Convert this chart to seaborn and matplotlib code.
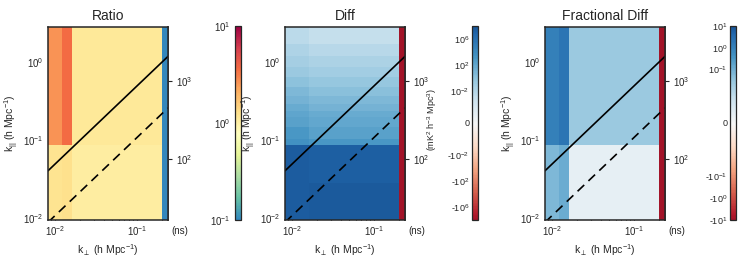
import numpy as np
import matplotlib
matplotlib.use('Agg')
import matplotlib.pyplot as plt
import matplotlib.colors as mcolors
import matplotlib.ticker as mticker
import seaborn as sns

# bin edges (h/Mpc)
kperp_edges = [0.0082, 0.0123, 0.0161, 0.205, 0.24]
kpar_edges = [0.0094, 0.028, 0.086, 0.103, 0.147, 0.197, 0.235, 0.29,
              0.37, 0.48, 0.64, 0.86, 1.19, 1.7, 2.81]

# values per cell, rows from low k_par to high k_par, columns = k_perp bins
ratio_vals = [
    [1.2, 1.25, 1.03, 0.1],
    [1.2, 1.25, 1.03, 0.1],
    [2.6, 3.6, 1.12, 0.1],
    [2.6, 3.6, 1.12, 0.1],
    [2.6, 3.6, 1.12, 0.1],
    [2.6, 3.6, 1.12, 0.1],
    [2.6, 3.6, 1.12, 0.1],
    [2.6, 3.6, 1.12, 0.1],
    [2.6, 3.6, 1.12, 0.1],
    [2.6, 3.6, 1.12, 0.1],
    [2.6, 3.6, 1.12, 0.1],
    [2.6, 3.6, 1.12, 0.1],
    [2.6, 3.6, 1.12, 0.1],
    [2.6, 3.6, 1.12, 0.1],
]
diff_vals = [
    [3e7, 3e7, 4e7, -1e8],
    [3e7, 3e7, 2.5e7, -1e8],
    [3e3, 3e3, 1e3, -1e8],
    [1e3, 1e3, 300, -1e8],
    [300, 300, 100, -1e8],
    [120, 120, 40, -1e8],
    [45, 45, 15, -1e8],
    [15, 15, 5, -1e8],
    [4.5, 4.5, 1.5, -1e8],
    [1.2, 1.2, 0.4, -1e8],
    [0.25, 0.25, 0.08, -1e8],
    [0.06, 0.06, 0.02, -1e8],
    [0.015, 0.015, 0.005, -1e8],
    [0.004, 0.004, 0.0012, -1e8],
]
frac_vals = [
    [0.07, 0.12, 0.003, -10],
    [0.07, 0.12, 0.003, -10],
    [1.2, 2.0, 0.028, -10],
    [1.2, 2.0, 0.028, -10],
    [1.2, 2.0, 0.028, -10],
    [1.2, 2.0, 0.028, -10],
    [1.2, 2.0, 0.028, -10],
    [1.2, 2.0, 0.028, -10],
    [1.2, 2.0, 0.028, -10],
    [1.2, 2.0, 0.028, -10],
    [1.2, 2.0, 0.028, -10],
    [1.2, 2.0, 0.028, -10],
    [1.2, 2.0, 0.028, -10],
    [1.2, 2.0, 0.028, -10],
]

titles = ['Ratio', 'Diff', 'Fractional Diff']
horizon_slope = 4.9   # solid line
pb_slope = 1.07       # dashed line
ns_per_k = 1750.0     # delay conversion

sns.set_style('ticks')
plt.rcParams['font.family'] = ['Liberation Sans', 'DejaVu Sans']
plt.rcParams['mathtext.default'] = 'regular'
plt.rcParams['axes.linewidth'] = 1.1

spectral = mcolors.ListedColormap(plt.get_cmap('Spectral_r')(np.linspace(0.1, 1.0, 256)))
rdbu = mcolors.ListedColormap(plt.get_cmap('RdBu')(np.linspace(0.08, 0.93, 256)))

norms = [
    mcolors.LogNorm(vmin=0.1, vmax=10),
    mcolors.SymLogNorm(linthresh=1e-3, linscale=3.6, vmin=-1e8, vmax=1e8, base=10),
    mcolors.SymLogNorm(linthresh=1e-2, linscale=1.3, vmin=-10, vmax=10, base=10),
]
cmaps = [spectral, rdbu, rdbu]
datas = [ratio_vals, diff_vals, frac_vals]

fig = plt.figure(figsize=(7.42, 2.76), dpi=100)
W, H = 742.0, 276.0
ax_lefts = [48, 285, 545]
cb_lefts = [235, 472, 730]
ax_top, ax_bot = 27, 220

cb_ticks = [
    None,
    [1e6, 1e2, 1e-2, 0, -1e-2, -1e2, -1e6],
    [10, 1, 0.1, 0, -0.1, -1, -10],
]
cb_labels = [
    None,
    ['10$^6$', '10$^2$', '10$^{-2}$', '0', '-10$^{-2}$', '-10$^2$', '-10$^6$'],
    ['10$^1$', '10$^0$', '10$^{-1}$', '0', '-10$^{-1}$', '-10$^0$', '-10$^1$'],
]

xlim = (kperp_edges[0], kperp_edges[-1])
ylim = (kpar_edges[0], 2.8)

for i in range(3):
    ax = fig.add_axes([ax_lefts[i] / W, 1 - ax_bot / H, 120 / W, (ax_bot - ax_top) / H])
    mesh = ax.pcolormesh(kperp_edges, kpar_edges, np.array(datas[i]),
                         cmap=cmaps[i], norm=norms[i], shading='flat')
    ax.set_xscale('log')
    ax.set_yscale('log')

    # wedge lines
    sns.lineplot(x=list(xlim), y=[horizon_slope * xlim[0], horizon_slope * xlim[1]],
                 ax=ax, color='black', lw=1.2)
    sns.lineplot(x=list(xlim), y=[pb_slope * xlim[0], pb_slope * xlim[1]],
                 ax=ax, color='black', lw=1.2, linestyle=(0, (5.5, 3.5)))
    ax.set_xlim(*xlim)
    ax.set_ylim(*ylim)

    ax.tick_params(which='both', direction='in', top=True, right=False,
                   labelsize=7, width=0.8, color='black', pad=3)
    ax.tick_params(which='major', length=4)
    ax.tick_params(which='minor', length=2)
    ax.set_xlabel(r'k$_{\perp}$ (h Mpc$^{-1}$)', fontsize=7.5, labelpad=3)
    ax.set_ylabel(r'k$_{||}$ (h Mpc$^{-1}$)', fontsize=7.5, labelpad=2)
    ax.set_title(titles[i], fontsize=10, pad=5)

    sec = ax.secondary_yaxis('right', functions=(lambda k: k * ns_per_k, lambda d: d / ns_per_k))
    sec.set_yscale('log')
    sec.yaxis.set_major_locator(mticker.FixedLocator([1e2, 1e3]))
    sec.tick_params(which='both', direction='out', labelsize=7, width=0.8, pad=3)
    sec.tick_params(which='major', length=3)
    sec.tick_params(which='minor', length=0)
    ax.text(1.03, -0.055, '(ns)', transform=ax.transAxes, fontsize=7, ha='left', va='center')

    cax = fig.add_axes([cb_lefts[i] / W, 1 - ax_bot / H, 6 / W, (ax_bot - 26) / H])
    cb = fig.colorbar(mesh, cax=cax)
    cb.outline.set_linewidth(0.9)
    if cb_ticks[i] is None:
        cax.tick_params(which='both', direction='in', left=True, right=True,
                        labelleft=True, labelright=False, labelsize=7, width=0.6, pad=3)
        cax.tick_params(which='major', length=3)
        cax.tick_params(which='minor', length=2)
    else:
        cb.set_ticks(cb_ticks[i])
        cb.set_ticklabels(cb_labels[i])
        cb.minorticks_off()
        cax.tick_params(which='both', left=False, right=False, length=0,
                        labelleft=True, labelright=False, labelsize=6.5, pad=2)
    if i == 1:
        cax.yaxis.set_label_position('left')
        cb.set_label('(mK$^2$ h$^{-3}$ Mpc$^3$)', fontsize=6.5)
        cax.yaxis.set_label_coords(-5.5, 0.52)

fig.savefig('out.png', dpi=100)
